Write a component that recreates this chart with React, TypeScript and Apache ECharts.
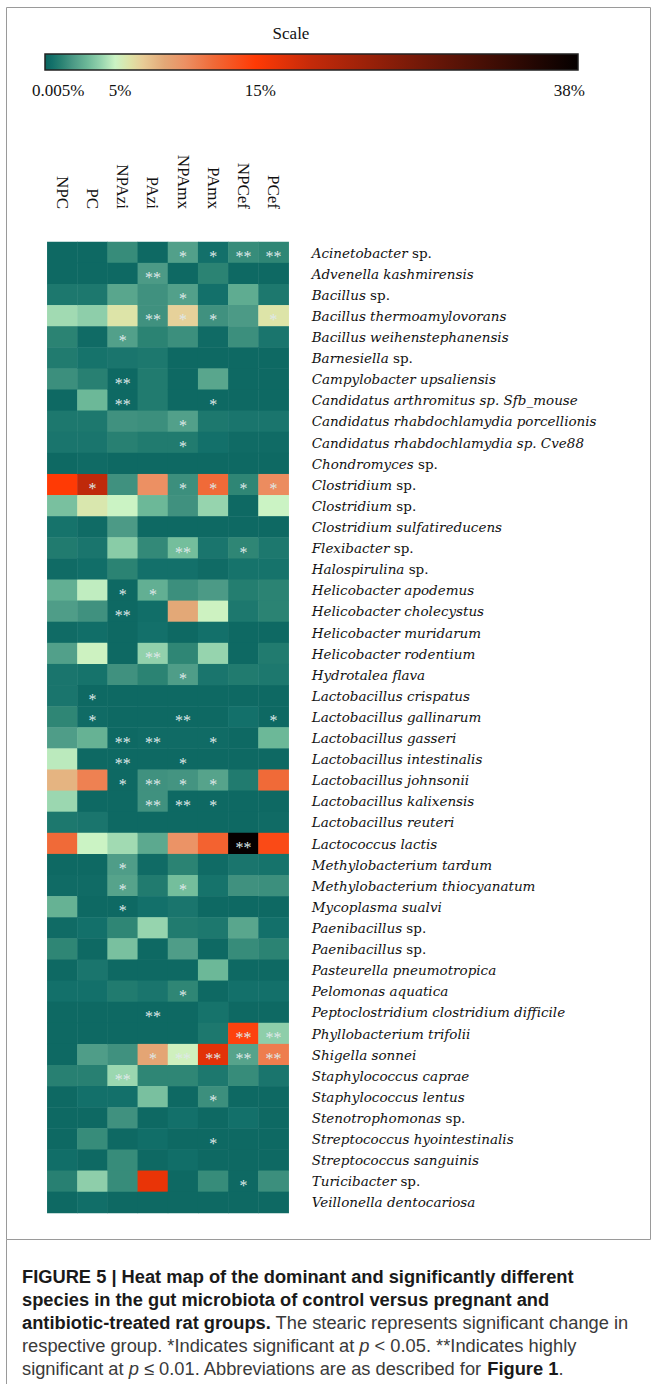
import React, { useEffect, useRef } from "react";
import * as echarts from "echarts";

const groups = ["NPC", "PC", "NPAzi", "PAzi", "NPAmx", "PAmx", "NPCef", "PCef"];

const species = [
  "Acinetobacter sp.",
  "Advenella kashmirensis",
  "Bacillus sp.",
  "Bacillus thermoamylovorans",
  "Bacillus weihenstephanensis",
  "Barnesiella sp.",
  "Campylobacter upsaliensis",
  "Candidatus arthromitus sp. Sfb_mouse",
  "Candidatus rhabdochlamydia porcellionis",
  "Candidatus rhabdochlamydia sp. Cve88",
  "Chondromyces sp.",
  "Clostridium sp.",
  "Clostridium sp.",
  "Clostridium sulfatireducens",
  "Flexibacter sp.",
  "Halospirulina sp.",
  "Helicobacter apodemus",
  "Helicobacter cholecystus",
  "Helicobacter muridarum",
  "Helicobacter rodentium",
  "Hydrotalea flava",
  "Lactobacillus crispatus",
  "Lactobacillus gallinarum",
  "Lactobacillus gasseri",
  "Lactobacillus intestinalis",
  "Lactobacillus johnsonii",
  "Lactobacillus kalixensis",
  "Lactobacillus reuteri",
  "Lactococcus lactis",
  "Methylobacterium tardum",
  "Methylobacterium thiocyanatum",
  "Mycoplasma sualvi",
  "Paenibacillus sp.",
  "Paenibacillus sp.",
  "Pasteurella pneumotropica",
  "Pelomonas aquatica",
  "Peptoclostridium clostridium difficile",
  "Phyllobacterium trifolii",
  "Shigella sonnei",
  "Staphylococcus caprae",
  "Staphylococcus lentus",
  "Stenotrophomonas sp.",
  "Streptococcus hyointestinalis",
  "Streptococcus sanguinis",
  "Turicibacter sp.",
  "Veillonella dentocariosa",
];

// relative abundance (%) per group, in species order
const NPC = [0.2, 0.2, 0.8, 4.2, 1.2, 0.9, 1.6, 0.2, 0.8, 0.7, 0.2, 15.0, 3.3, 0.6, 0.9, 0.3, 2.7, 2.1, 0.3, 2.2, 0.7, 0.7, 1.3, 2.1, 4.7, 8.0, 4.1, 0.8, 12.0, 0.2, 0.3, 2.8, 0.3, 1.3, 0.2, 0.5, 0.2, 0.2, 0.2, 1.1, 0.2, 0.2, 0.2, 0.4, 1.1, 0.2];
const PC = [0.2, 0.2, 0.8, 3.8, 0.3, 0.6, 1.1, 3.0, 0.8, 0.7, 0.3, 19.5, 5.8, 0.3, 0.7, 0.4, 4.8, 1.7, 0.4, 5.1, 0.6, 0.2, 0.3, 2.8, 0.2, 10.8, 0.2, 0.7, 5.0, 0.2, 0.3, 0.2, 0.5, 0.2, 0.7, 0.5, 0.2, 0.2, 2.1, 1.1, 0.5, 0.2, 1.5, 0.2, 3.8, 0.4];
const NPAzi = [1.5, 0.2, 2.4, 6.0, 2.2, 0.7, 0.2, 0.2, 1.7, 1.1, 0.2, 1.7, 5.0, 2.0, 3.7, 1.2, 0.2, 0.2, 0.2, 0.2, 1.7, 0.2, 0.2, 0.2, 0.2, 0.2, 0.2, 0.2, 4.2, 2.1, 2.3, 0.2, 1.3, 3.3, 0.2, 0.9, 0.2, 0.2, 1.7, 4.1, 0.5, 1.7, 0.2, 1.5, 1.5, 0.2];
const PAzi = [0.2, 2.0, 1.7, 1.7, 1.2, 0.8, 0.9, 0.9, 1.6, 0.9, 0.2, 10.0, 3.0, 0.2, 1.4, 0.5, 2.7, 0.4, 0.5, 3.9, 1.2, 0.2, 0.2, 0.3, 0.2, 1.7, 1.7, 0.2, 2.5, 0.3, 0.9, 0.5, 4.0, 0.2, 0.2, 0.7, 0.2, 0.2, 8.7, 1.3, 3.3, 0.2, 0.4, 0.2, 16.5, 0.2];
const NPAmx = [2.2, 0.2, 2.2, 6.8, 1.6, 0.2, 0.2, 0.2, 2.2, 0.9, 0.2, 1.6, 1.7, 0.2, 3.2, 0.5, 1.6, 8.5, 0.2, 1.3, 2.1, 0.2, 0.2, 0.3, 0.2, 1.8, 0.2, 0.2, 9.8, 1.2, 3.2, 0.7, 0.9, 2.1, 0.2, 1.3, 0.2, 0.2, 5.2, 1.3, 0.2, 0.5, 0.2, 0.4, 0.2, 0.2];
const PAmx = [0.5, 1.2, 0.5, 1.7, 0.3, 0.2, 2.4, 0.2, 0.8, 0.5, 0.2, 12.0, 4.0, 0.2, 0.7, 0.3, 2.0, 5.1, 0.5, 4.0, 0.7, 0.2, 0.2, 0.3, 0.2, 2.3, 0.2, 0.2, 12.5, 0.3, 0.6, 0.2, 0.8, 0.2, 3.0, 0.2, 0.6, 0.8, 17.0, 0.8, 1.6, 0.2, 0.2, 0.2, 1.5, 0.2];
const NPCef = [1.5, 0.2, 2.6, 2.0, 1.6, 0.2, 0.2, 0.2, 0.7, 0.3, 0.2, 1.3, 0.2, 0.2, 1.3, 0.6, 1.0, 0.8, 0.2, 0.2, 0.9, 0.2, 0.5, 0.2, 0.2, 0.9, 0.2, 0.2, 38, 0.7, 1.7, 0.2, 2.4, 1.5, 0.2, 0.5, 0.2, 14.5, 2.3, 1.5, 0.2, 0.5, 0.2, 0.2, 0.2, 0.2];
const PCef = [1.3, 0.2, 0.8, 6.0, 0.7, 0.2, 0.2, 0.2, 0.7, 0.3, 0.2, 10.2, 5.0, 0.2, 0.8, 0.6, 1.2, 1.2, 0.2, 0.9, 0.8, 0.2, 0.2, 3.0, 0.2, 12.0, 0.2, 0.3, 14.0, 0.6, 1.6, 0.2, 0.5, 1.2, 0.2, 0.5, 0.2, 3.8, 11.0, 0.7, 0.2, 0.2, 0.2, 0.2, 1.6, 0.2];

const groupValues = [NPC, PC, NPAzi, PAzi, NPAmx, PAmx, NPCef, PCef];

// significance marks: [species index, group index, mark]
const stars: [number, number, string][] = [
  [0, 4, "*"], [0, 5, "*"], [0, 6, "**"], [0, 7, "**"],
  [1, 3, "**"],
  [2, 4, "*"],
  [3, 3, "**"], [3, 4, "*"], [3, 5, "*"], [3, 7, "*"],
  [4, 2, "*"],
  [6, 2, "**"],
  [7, 2, "**"], [7, 5, "*"],
  [8, 4, "*"],
  [9, 4, "*"],
  [11, 1, "*"], [11, 4, "*"], [11, 5, "*"], [11, 6, "*"], [11, 7, "*"],
  [14, 4, "**"], [14, 6, "*"],
  [16, 2, "*"], [16, 3, "*"],
  [17, 2, "**"],
  [19, 3, "**"],
  [20, 4, "*"],
  [21, 1, "*"],
  [22, 1, "*"], [22, 4, "**"], [22, 7, "*"],
  [23, 2, "**"], [23, 3, "**"], [23, 5, "*"],
  [24, 2, "**"], [24, 4, "*"],
  [25, 2, "*"], [25, 3, "**"], [25, 4, "*"], [25, 5, "*"],
  [26, 3, "**"], [26, 4, "**"], [26, 5, "*"],
  [28, 6, "**"],
  [29, 2, "*"],
  [30, 2, "*"], [30, 4, "*"],
  [31, 2, "*"],
  [35, 4, "*"],
  [36, 3, "**"],
  [37, 6, "**"], [37, 7, "**"],
  [38, 3, "*"], [38, 4, "**"], [38, 5, "**"], [38, 6, "**"], [38, 7, "**"],
  [39, 2, "**"],
  [40, 5, "*"],
  [42, 5, "*"],
  [44, 6, "*"],
];

const scaleMax = 38;
const scaleTickLabels = ["0.005%", "5%", "15%", "38%"];
const scaleTickValues = [0, 5, 15, 38];

// colour ramp (value %, colour)
const colorStops: [number, string][] = [
  [0, "#0b645e"], [0.5, "#13706a"], [1.2, "#2b8373"], [2, "#4c9a86"], [3, "#6cb898"],
  [4, "#96d4ae"], [5, "#cbf3c4"], [6, "#dde4a8"], [7, "#e8cc96"], [8.5, "#e3a877"],
  [10, "#ec9063"], [12, "#f06a38"], [15, "#ff3a05"], [19, "#c42a0a"], [27, "#701808"],
  [38, "#050000"],
];

function hexToRgb(h: string) {
  return [parseInt(h.slice(1, 3), 16), parseInt(h.slice(3, 5), 16), parseInt(h.slice(5, 7), 16)];
}
function colorAt(v: number) {
  for (let i = 0; i < colorStops.length - 1; i++) {
    const [a, ca] = colorStops[i];
    const [b, cb] = colorStops[i + 1];
    if (v >= a && v <= b) {
      const t = (v - a) / (b - a);
      const A = hexToRgb(ca), B = hexToRgb(cb);
      const c = A.map((x, k) => Math.round(x + (B[k] - x) * t));
      return `rgb(${c[0]},${c[1]},${c[2]})`;
    }
  }
  return colorStops[colorStops.length - 1][1];
}

export default function App() {
  const ref = useRef<HTMLDivElement>(null);
  useEffect(() => {
    document.body.style.margin = "0";
    const chart = echarts.init(ref.current!, null, { renderer: "svg" });

    const data: [number, number, number][] = [];
    groupValues.forEach((col, gi) => col.forEach((v, si) => data.push([gi, si, v])));
    const starMap: Record<string, string> = {};
    stars.forEach(([s, g, m]) => (starMap[`${s}-${g}`] = m));

    const ramp: string[] = [];
    for (let i = 0; i <= scaleMax * 10; i++) ramp.push(colorAt(i / 10));

    const barLeft = 45, barTop = 54, barW = 533, barH = 16;
    const tickX = (v: number) => barLeft + (v / scaleMax) * barW;

    const serif = "Liberation Serif";
    const graphics: any[] = [
      { type: "rect", shape: { x: 6.5, y: 7.5, width: 644, height: 1232 }, style: { fill: "none", stroke: "#9a9a9a", lineWidth: 1 }, silent: true },
      { type: "line", shape: { x1: 6.5, y1: 1239.5, x2: 6.5, y2: 1384 }, style: { stroke: "#9a9a9a", lineWidth: 1 } },
      { type: "text", x: 291, y: 33, style: { text: "Scale", font: `17px "${serif}"`, fill: "#111", align: "center", verticalAlign: "middle" } },
      {
        type: "rect",
        shape: { x: barLeft, y: barTop, width: barW, height: barH },
        style: {
          fill: new echarts.graphic.LinearGradient(0, 0, 1, 0, colorStops.map(([v, c]) => ({ offset: v / scaleMax, color: c }))),
          stroke: "#222",
          lineWidth: 1.5,
        },
      },
    ];
    scaleTickLabels.forEach((t, i) => {
      const first = i === 0, last = i === scaleTickLabels.length - 1;
      graphics.push({
        type: "text",
        x: first ? tickX(scaleTickValues[i]) - 13 : last ? tickX(scaleTickValues[i]) + 7 : tickX(scaleTickValues[i]) + 5,
        y: 90,
        style: { text: t, font: `17px "${serif}"`, fill: "#111", align: first ? "left" : last ? "right" : "center", verticalAlign: "middle" },
      });
    });

    // caption
    const capX = 22;
    const capY0 = 1276;
    const capLH = 23.2;
    const sans = "Liberation Sans";
    const fs = 18.3;
    const capLines: string[] = [
      "{b|FIGURE 5 | Heat map of the dominant and significantly different}",
      "{b|species in the gut microbiota of control versus pregnant and}",
      "{b|antibiotic-treated rat groups.}{n| The stearic represents significant change in}",
      "{n|respective group. *Indicates significant at }{i|p}{n| < 0.05. **Indicates highly}",
      "{n|significant at }{i|p}{n| ≤ 0.01. Abbreviations are as described for }{b|Figure 1}{n|.}",
    ];
    capLines.forEach((t, i) => {
      graphics.push({
        type: "text",
        x: capX,
        y: capY0 + i * capLH,
        style: {
          text: t,
          align: "left",
          verticalAlign: "middle",
          rich: {
            b: { fontFamily: sans, fontSize: fs, fontWeight: "bold", fill: "#1a1a1a" },
            n: { fontFamily: sans, fontSize: fs, fill: "#3a3a3a" },
            i: { fontFamily: sans, fontSize: fs, fontStyle: "italic", fill: "#3a3a3a" },
          },
        },
      });
    });

    chart.setOption({
      animation: false,
      backgroundColor: "#ffffff",
      grid: { left: 47.3, top: 242, width: 241.4, height: 971, containLabel: false },
      xAxis: {
        type: "category",
        data: groups,
        position: "top",
        axisLine: { show: false },
        axisTick: { show: false },
        splitLine: { show: false },
        axisLabel: { rotate: 90, margin: 33, fontFamily: serif, fontSize: 17, color: "#111", interval: 0 },
      },
      yAxis: {
        type: "category",
        data: species,
        inverse: true,
        position: "right",
        axisLine: { show: false },
        axisTick: { show: false },
        splitLine: { show: false },
        axisLabel: {
          margin: 23,
          interval: 0,
          formatter: (v: string) => {
            const m = v.match(/^(\S+) sp\.$/);
            if (m) return `{i|${m[1]}}{n| sp.}`;
            return `{i|${v}}`;
          },
          rich: {
            i: { fontFamily: "DejaVu Serif", fontStyle: "italic", fontSize: 13.5, color: "#111" },
            n: { fontFamily: "DejaVu Serif", fontSize: 13.5, color: "#111" },
          },
        },
      },
      visualMap: {
        show: false,
        type: "continuous",
        min: 0,
        max: scaleMax,
        dimension: 2,
        inRange: { color: ramp },
      },
      series: [
        {
          type: "heatmap",
          data,
          itemStyle: { borderWidth: 0 },
          label: {
            show: true,
            formatter: (p: any) => starMap[`${p.data[1]}-${p.data[0]}`] || "",
            fontFamily: serif,
            fontSize: 16,
            color: "#dfe8e8",
            offset: [0, 4],
          },
          emphasis: { disabled: true },
        },
      ],
      graphic: graphics,
    });
    return () => chart.dispose();
  }, []);
  return <div ref={ref} style={{ width: 657, height: 1384 }} />;
}
